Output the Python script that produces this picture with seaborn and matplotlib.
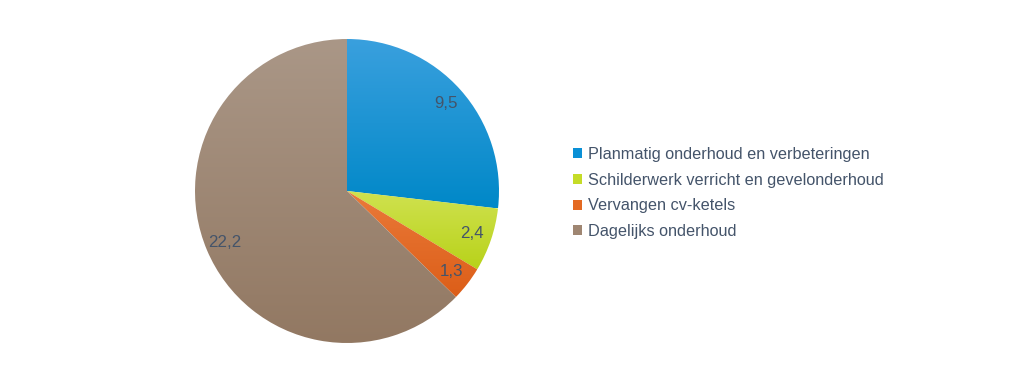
"""Pie chart of maintenance costs, recreated with seaborn/matplotlib."""

import matplotlib.pyplot as plt
import numpy as np
import seaborn as sns
from matplotlib.colors import LinearSegmentedColormap
from matplotlib.patches import Patch

categories = [
    "Planmatig onderhoud en verbeteringen",
    "Schilderwerk verricht en gevelonderhoud",
    "Vervangen cv-ketels",
    "Dagelijks onderhoud",
]
values = [9.5, 2.4, 1.3, 22.2]
value_labels = ["9,5", "2,4", "1,3", "22,2"]

# (top colour, bottom colour) per slice, for the soft vertical gradient
colors = [
    ("#3aa0de", "#0088c8"),
    ("#d0e250", "#b8d21a"),
    ("#ea7a3a", "#dc5e18"),
    ("#aa9787", "#927862"),
]
legend_colors = ["#0a90d6", "#c5dc28", "#e46a22", "#9f8672"]
TEXT_COLOR = "#44546a"

sns.set_theme(style="white")
plt.rcParams["font.family"] = ["Liberation Sans", "DejaVu Sans"]

fig = plt.figure(figsize=(10.24, 3.82), dpi=100)
cx, cy, r = 347 / 1024, 191 / 382, 152
ax = fig.add_axes([cx - r / 1024, cy - r / 382, 2 * r / 1024, 2 * r / 382])

wedges, texts = ax.pie(
    values,
    labels=value_labels,
    startangle=90,
    counterclock=False,
    labeldistance=0.87,
    radius=1,
    colors=legend_colors,
    textprops={"color": TEXT_COLOR, "fontsize": 12.2},
)

ax.set_xlim(-1, 1)
ax.set_ylim(-1, 1)
ax.set_aspect("equal")
ax.axis("off")
fig.canvas.draw()

grad = np.linspace(0, 1, 256).reshape(-1, 1)
for wedge, (top, bottom) in zip(wedges, colors):
    # gradient spans the vertical extent of each slice
    verts = wedge.get_path().vertices
    y0, y1 = verts[:, 1].min(), verts[:, 1].max()
    cmap = LinearSegmentedColormap.from_list("g", [top, bottom])
    img = ax.imshow(
        grad, cmap=cmap, extent=(-1, 1, y0, y1), origin="upper",
        aspect="auto", zorder=wedge.get_zorder(),
    )
    img.set_clip_path(wedge)
    wedge.set_facecolor("none")
    wedge.set_edgecolor("none")

for t in texts:
    t.set_horizontalalignment("center")
    t.set_verticalalignment("center")
    t.set_zorder(5)

ax.set_xlim(-1, 1)
ax.set_ylim(-1, 1)

handles = [Patch(facecolor=c, edgecolor="none") for c in legend_colors]
fig.legend(
    handles,
    categories,
    loc="center left",
    bbox_to_anchor=(558 / 1024, 189 / 382),
    frameon=False,
    fontsize=11.7,
    labelcolor=TEXT_COLOR,
    handlelength=0.55,
    handleheight=0.55,
    handletextpad=0.4,
    labelspacing=0.66,
)

fig.savefig("out.png", dpi=100, facecolor="white")
